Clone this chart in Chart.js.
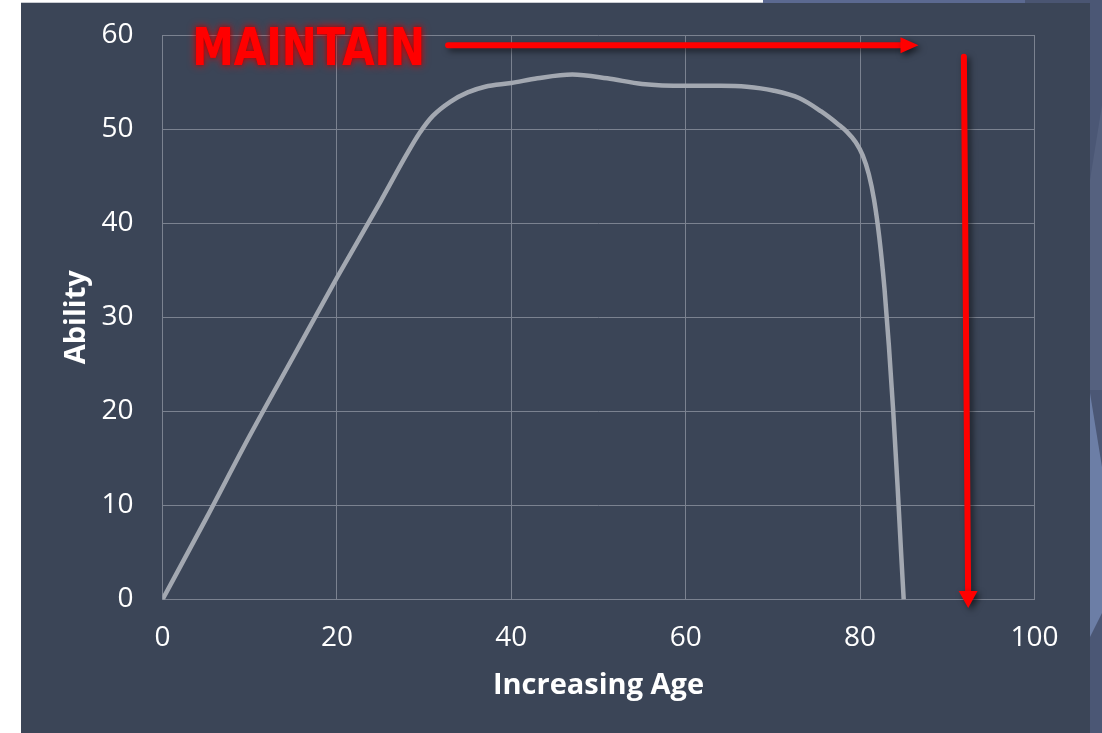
<!DOCTYPE html>
<html>
<head>
<meta charset="utf-8">
<script src="https://cdn.jsdelivr.net/npm/chart.js@4/dist/chart.umd.min.js"></script>
<style>
  html, body { margin: 0; padding: 0; background: #ffffff; overflow: hidden; }
  canvas { display: block; }
</style>
</head>
<body>
<canvas id="chart" width="1102" height="733"></canvas>
<script>
// Ability over a lifetime: rises, holds a plateau, then falls off sharply
const ages    = [0, 5, 10, 15, 20, 25, 28, 29.5, 31, 33, 35, 37, 40, 43, 47, 51, 55, 60, 64, 67, 70, 73, 75.5, 77.5, 78.5, 79.5, 80.3, 81, 81.6, 82.2, 82.8, 83.3, 83.8, 84.3, 84.7, 85];
const ability = [0, 8.6, 17.4, 25.8, 34.2, 42.3, 47.3, 49.6, 51.4, 52.9, 53.9, 54.5, 54.9, 55.4, 55.8, 55.4, 54.8, 54.6, 54.6, 54.5, 54.1, 53.3, 51.9, 50.5, 49.7, 48.6, 47.2, 45.2, 42.5, 38.5, 33.0, 27.0, 20.0, 12.0, 5.0, 0];

const xTickValues = [0, 20, 40, 60, 80, 100];
const yTickValues = [0, 10, 20, 30, 40, 50, 60];
const xTitle = 'Increasing Age';
const yTitle = 'Ability';
const bannerText = 'MAINTAIN';

const points = ages.map((a, i) => ({ x: a, y: ability[i] }));

const PANEL = '#3b4557';
const GRID = '#7b8290';

// Slide backdrop: dark panel, thin top strips and a side ribbon
const backdrop = {
  id: 'backdrop',
  beforeDraw(chart) {
    const { ctx, width, height } = chart;
    ctx.save();
    ctx.fillStyle = '#ffffff';
    ctx.fillRect(0, 0, width, height);
    ctx.fillStyle = '#c9ccd2';
    ctx.fillRect(21, 2, 742, 1);
    ctx.fillStyle = '#5b6991';
    ctx.fillRect(763, 0, 262, 3);
    ctx.fillStyle = '#4a5572';
    ctx.fillRect(1025, 0, 65, 3);
    ctx.fillStyle = PANEL;
    ctx.fillRect(21, 3, 1069, height - 3);
    ctx.fillStyle = '#4b5775';
    ctx.fillRect(1090, 0, width - 1090, height);
    ctx.fillStyle = '#55617f';
    ctx.beginPath();
    ctx.moveTo(1102, 105);
    ctx.lineTo(1090, 180);
    ctx.lineTo(1090, 390);
    ctx.lineTo(1102, 390);
    ctx.closePath();
    ctx.fill();
    ctx.fillStyle = '#6c7ea6';
    ctx.beginPath();
    ctx.moveTo(1090, 393);
    ctx.lineTo(1102, 467);
    ctx.lineTo(1102, 613);
    ctx.lineTo(1090, 637);
    ctx.closePath();
    ctx.fill();
    ctx.restore();
  }
};

// Red "MAINTAIN" banner and the two arrows, placed in data units
const annotations = {
  id: 'annotations',
  afterDatasetsDraw(chart, args, opts) {
    const { ctx, scales: { x, y } } = chart;
    const px = p => [x.getPixelForValue(p[0]), y.getPixelForValue(p[1])];

    function arrow(from, to, headLen, headHalf) {
      const [x0, y0] = px(from);
      const [x1, y1] = px(to);
      const ang = Math.atan2(y1 - y0, x1 - x0);
      const bx = x1 - headLen * Math.cos(ang);
      const by = y1 - headLen * Math.sin(ang);
      ctx.save();
      ctx.shadowColor = 'rgba(0,0,0,0.55)';
      ctx.shadowBlur = 6;
      ctx.shadowOffsetX = 3;
      ctx.shadowOffsetY = 3;
      ctx.strokeStyle = '#ff0000';
      ctx.fillStyle = '#ff0000';
      ctx.lineWidth = 6;
      ctx.lineCap = 'round';
      ctx.beginPath();
      ctx.moveTo(x0, y0);
      ctx.lineTo(bx + 2 * Math.cos(ang), by + 2 * Math.sin(ang));
      ctx.stroke();
      ctx.beginPath();
      ctx.moveTo(x1, y1);
      ctx.lineTo(bx - headHalf * Math.sin(ang), by + headHalf * Math.cos(ang));
      ctx.lineTo(bx + headHalf * Math.sin(ang), by - headHalf * Math.cos(ang));
      ctx.closePath();
      ctx.fill();
      ctx.restore();
    }

    arrow(opts.maintainFrom, opts.maintainTo, 18, 8);
    arrow(opts.declineFrom, opts.declineTo, 17, 9.5);

    const [tx, ty] = px(opts.bannerAt);
    ctx.save();
    ctx.font = 'bold 52px "DejaVu Sans", sans-serif';
    ctx.textBaseline = 'alphabetic';
    ctx.textAlign = 'left';
    const w = ctx.measureText(bannerText).width;
    const sx = opts.bannerWidth / w;
    ctx.translate(tx, ty);
    ctx.scale(sx, 1);
    ctx.fillStyle = '#ff0000';
    ctx.shadowColor = 'rgba(255,0,0,0.85)';
    ctx.shadowBlur = 9;
    ctx.fillText(bannerText, 0, 0);
    ctx.shadowColor = 'rgba(120,0,0,0.6)';
    ctx.shadowBlur = 4;
    ctx.fillText(bannerText, 0, 0);
    ctx.restore();
  }
};

new Chart(document.getElementById('chart'), {
  type: 'scatter',
  data: {
    datasets: [{
      data: points,
      showLine: true,
      borderColor: '#a3a8b1',
      borderWidth: 4.5,
      pointRadius: 0,
      pointHoverRadius: 0,
      cubicInterpolationMode: 'monotone',
      fill: false
    }]
  },
  options: {
    responsive: false,
    animation: false,
    events: [],
    layout: { padding: { left: 0, top: 35, right: 67.5, bottom: 0 } },
    plugins: {
      legend: { display: false },
      tooltip: { enabled: false },
      annotations: {
        maintainFrom: [32.75, 58.9],
        maintainTo: [86.7, 58.9],
        declineFrom: [91.9, 57.7],
        declineTo: [92.4, -0.9],
        bannerAt: [3.4, 56.8],
        bannerWidth: 233
      }
    },
    scales: {
      x: {
        type: 'linear',
        min: 0,
        max: 100,
        afterFit: s => { s.height = 133.5; },
        afterBuildTicks: s => { s.ticks = xTickValues.map(v => ({ value: v })); },
        grid: { color: GRID, lineWidth: 1, drawTicks: false },
        border: { display: true, color: GRID, width: 1 },
        ticks: {
          color: '#ffffff',
          padding: 22,
          maxRotation: 0,
          font: { family: '"Open Sans", sans-serif', size: 28 }
        },
        title: {
          display: true,
          text: xTitle,
          color: '#ffffff',
          font: { family: '"Open Sans", sans-serif', size: 29, weight: 'bold' },
          padding: { top: 0, bottom: 29.6 }
        }
      },
      y: {
        type: 'linear',
        min: 0,
        max: 60,
        afterFit: s => { s.width = 162.5; s.paddingTop = 0; s.paddingBottom = 0; },
        afterBuildTicks: s => { s.ticks = yTickValues.map(v => ({ value: v })); },
        grid: { color: GRID, lineWidth: 1, drawTicks: false },
        border: { display: true, color: GRID, width: 1 },
        ticks: {
          color: '#ffffff',
          padding: 29,
          font: { family: '"Open Sans", sans-serif', size: 28 }
        },
        title: {
          display: true,
          text: yTitle,
          color: '#ffffff',
          font: { family: '"Open Sans", sans-serif', size: 29, weight: 'bold' },
          padding: { top: 59.6, bottom: 0 }
        }
      }
    }
  },
  plugins: [backdrop, annotations]
});
</script>
</body>
</html>
